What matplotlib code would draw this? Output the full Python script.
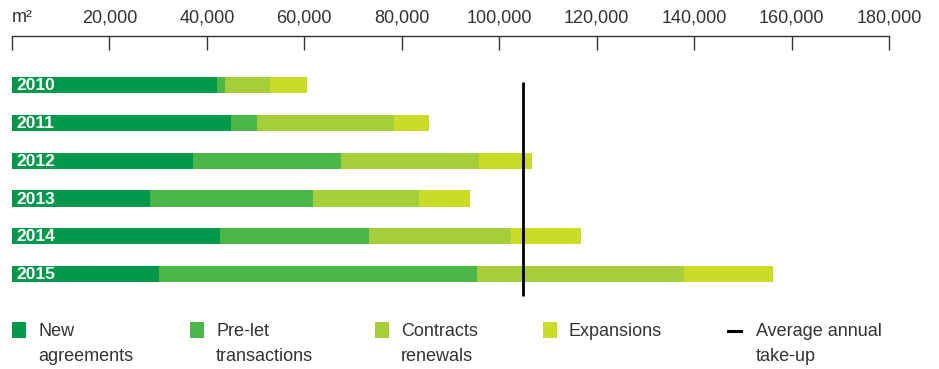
import numpy as np
import matplotlib
matplotlib.use("Agg")
import matplotlib.pyplot as plt
from matplotlib.patches import Rectangle
from matplotlib.lines import Line2D

# Office take-up per year, m²
years = ["2010", "2011", "2012", "2013", "2014", "2015"]
new_agreements = [42100, 44900, 37100, 28300, 42700, 30200]
pre_let = [1600, 5300, 30400, 33500, 30600, 65300]
renewals = [9300, 28300, 28300, 21700, 29100, 42500]
expansions = [7500, 7000, 10900, 10500, 14400, 18200]
average_take_up = 104900

series = [new_agreements, pre_let, renewals, expansions]
colors = ["#00984a", "#4bb748", "#a6ce39", "#cbdb2a"]
legend_labels = ["New\nagreements", "Pre-let\ntransactions", "Contracts\nrenewals", "Expansions"]
ticks = [0, 20000, 40000, 60000, 80000, 100000, 120000, 140000, 160000, 180000]

plt.rcParams["font.family"] = ["Liberation Sans", "DejaVu Sans"]

fig = plt.figure(figsize=(9.39, 3.69), dpi=100)
ax = fig.add_axes([12 / 939, 69 / 369, 877 / 939, 264 / 369])

y = np.arange(len(years))
left = np.zeros(len(years))
for vals, c in zip(series, colors):
    ax.barh(y, vals, left=left, height=0.43, color=c, linewidth=0)
    left += np.array(vals)

for i, yr in enumerate(years):
    ax.text(1000, i + 0.02, yr, color="white", fontsize=12.5, fontweight="bold",
            va="center", ha="left")

ax.plot([average_take_up, average_take_up], [-0.09, 5.58], color="black", lw=2, solid_capstyle="butt")

ax.set_xlim(0, 180000)
ax.set_ylim(5.69, -1.30)
ax.xaxis.set_ticks_position("top")
ax.set_xticks(ticks)
ax.set_xticklabels([""] + [f"{t:,}" for t in ticks[1:]])
ax.tick_params(axis="x", direction="in", length=10, width=1, color="#333333",
               labelsize=13, labelcolor="#333333", pad=7)
ax.set_yticks([])
for s in ["left", "right", "bottom"]:
    ax.spines[s].set_visible(False)
ax.spines["top"].set_color("#333333")
ax.spines["top"].set_linewidth(1)

fig.text(12 / 939, 1 - 17 / 369, "m²", fontsize=13, color="#333333", ha="left", va="center")

# legend row along the bottom
leg = fig.add_axes([0, 0, 1, 1], zorder=-1)
leg.set_xlim(0, 939)
leg.set_ylim(369, 0)
leg.axis("off")
leg_x = [12, 190, 375, 543]
for x0, c, lab in zip(leg_x, colors, legend_labels):
    leg.add_patch(Rectangle((x0, 322), 14, 16, color=c, lw=0))
    leg.text(x0 + 26, 323, lab, fontsize=13, color="#333333", va="top", ha="left",
             linespacing=1.6)
leg.add_line(Line2D([728, 741], [331, 331], color="black", lw=2.2))
leg.text(756, 323, "Average annual\ntake-up", fontsize=13, color="#333333", va="top",
         ha="left", linespacing=1.6)

fig.savefig("out.png", dpi=100)
